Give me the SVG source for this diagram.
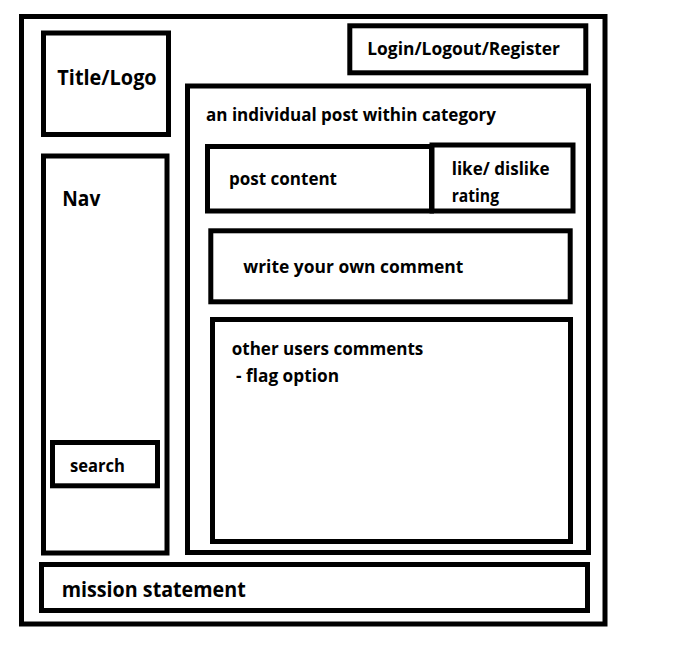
<svg xmlns="http://www.w3.org/2000/svg" width="673" height="648" viewBox="0 0 673 648">
  <style>
    .box { fill: none; stroke: #000; stroke-width: 5; }
    .lbl { font-family: "Open Sans", "Noto Sans", "Liberation Sans", sans-serif; font-weight: 700; fill: #000; }
    .big { font-size: 21px; }
    .small { font-size: 18px; }
  </style>
  <rect width="673" height="648" fill="#fff"/>

  <!-- page frame -->
  <g id="page">
    <rect class="box" x="21.5" y="16.5" width="583.5" height="607.5"/>
  </g>

  <g id="title-logo">
    <rect class="box" x="43.5" y="33" width="125" height="101.5"/>
    <text class="lbl big" x="57.3" y="85" textLength="99.4" lengthAdjust="spacingAndGlyphs">Title/Logo</text>
  </g>

  <g id="account">
    <rect class="box" x="349.8" y="25.8" width="236" height="47"/>
    <text class="lbl small" x="367.3" y="55" textLength="192.7" lengthAdjust="spacingAndGlyphs">Login/Logout/Register</text>
  </g>

  <g id="nav">
    <rect class="box" x="43.5" y="156" width="123.5" height="397"/>
    <text class="lbl big" x="62.3" y="206" textLength="38" lengthAdjust="spacingAndGlyphs">Nav</text>
  </g>

  <g id="search">
    <rect class="box" x="52.5" y="442.5" width="105" height="43.3"/>
    <text class="lbl small" x="70" y="471.7" textLength="55" lengthAdjust="spacingAndGlyphs">search</text>
  </g>

  <g id="post">
    <rect class="box" x="187.5" y="86" width="401" height="466.5"/>
    <text class="lbl small" x="206" y="120.5" textLength="290" lengthAdjust="spacingAndGlyphs">an individual post within category</text>
  </g>

  <g id="post-content">
    <rect class="box" x="207.5" y="146.5" width="224" height="64.5"/>
    <text class="lbl small" x="229" y="184.5" textLength="108" lengthAdjust="spacingAndGlyphs">post content</text>
  </g>

  <g id="rating">
    <rect class="box" x="432" y="145" width="141" height="66"/>
    <text class="lbl small" x="451.7" y="175" textLength="98" lengthAdjust="spacingAndGlyphs">like/ dislike</text>
    <text class="lbl small" x="451.7" y="201.5" textLength="47.3" lengthAdjust="spacingAndGlyphs">rating</text>
  </g>

  <g id="write-comment">
    <rect class="box" x="210.8" y="230.8" width="359.4" height="71"/>
    <text class="lbl small" x="243.3" y="273.3" textLength="220" lengthAdjust="spacingAndGlyphs">write your own comment</text>
  </g>

  <g id="comments">
    <rect class="box" x="212.5" y="319.5" width="358" height="222"/>
    <text class="lbl small" x="231.7" y="355" textLength="191.6" lengthAdjust="spacingAndGlyphs">other users comments</text>
    <text class="lbl small" x="236" y="381.7" textLength="103" lengthAdjust="spacingAndGlyphs">- flag option</text>
  </g>

  <g id="mission">
    <rect class="box" x="41.5" y="564.5" width="546" height="46"/>
    <text class="lbl big" x="61.7" y="596.7" textLength="184" lengthAdjust="spacingAndGlyphs">mission statement</text>
  </g>
</svg>
